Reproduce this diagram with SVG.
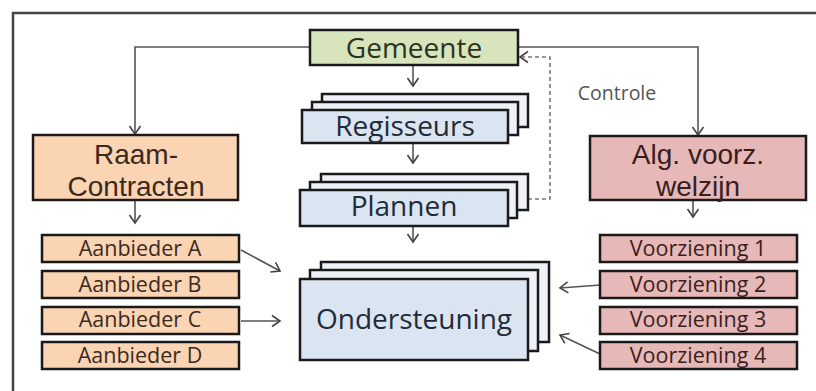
<svg xmlns="http://www.w3.org/2000/svg" width="816" height="391" viewBox="0 0 816 391">
<style>
.box{stroke:#1a1a1a;stroke-width:2.5}
.green{fill:#d8e4bc}
.peach{fill:#fbd4b4}
.pink{fill:#e6b8b7}
.blue{fill:#dbe5f1}
.bg{fill:#eef2f8}
.big{font-family:"Open Sans","Noto Sans",sans-serif;font-size:28px;text-anchor:middle}
.two{font-family:"Liberation Sans",Arial,sans-serif;font-size:28px;text-anchor:middle}
.small{font-family:"Open Sans","Noto Sans",sans-serif;font-size:21.5px;text-anchor:middle}
.conn{fill:none;stroke:#555;stroke-width:1.6}
.dash{fill:none;stroke:#777;stroke-width:1.6;stroke-dasharray:4 3}
</style>
<defs>
<marker id="arr" markerUnits="userSpaceOnUse" markerWidth="14" markerHeight="14" refX="11" refY="7" orient="auto">
<path d="M3,1.5 L11,7 L3,12.5" fill="none" stroke="#444" stroke-width="1.6"/>
</marker>
</defs>
<rect width="816" height="391" fill="#ffffff"/>
<path d="M13,391 V13 H816" fill="none" stroke="#444" stroke-width="2.5"/>

<g id="connectors">
<path class="conn" d="M310,47 H135 V134" marker-end="url(#arr)"/>
<path class="conn" d="M518,47 H698 V135" marker-end="url(#arr)"/>
<path class="conn" d="M413,66 V86" marker-end="url(#arr)"/>
<path class="conn" d="M413,143 V163" marker-end="url(#arr)"/>
<path class="conn" d="M413,227 V242" marker-end="url(#arr)"/>
<path class="conn" d="M135,201 V223" marker-end="url(#arr)"/>
<path class="conn" d="M693,201 V217" marker-end="url(#arr)"/>
<path class="conn" d="M241,250 L280,271" marker-end="url(#arr)"/>
<path class="conn" d="M241,321 H280" marker-end="url(#arr)"/>
<path class="conn" d="M600,285 L560,288" marker-end="url(#arr)"/>
<path class="conn" d="M600,354 L560,335" marker-end="url(#arr)"/>
<path class="dash" d="M528,199 H550 V57 H520" marker-end="url(#arr)"/>
<text x="617" y="100" font-family="'Open Sans','Noto Sans',sans-serif" font-size="19.5" fill="#555" text-anchor="middle">Controle</text>
</g>

<g id="gemeente">
<rect class="box green" x="310" y="30" width="208" height="35"/>
<text class="big" x="414" y="58" fill="#2b3422">Gemeente</text>
</g>

<g id="regisseurs">
<rect class="box bg" x="322" y="94" width="206" height="33"/>
<rect class="box bg" x="312" y="102" width="206" height="33"/>
<rect class="box blue" x="302" y="110" width="206" height="33"/>
<text class="big" x="405" y="136" fill="#222b38">Regisseurs</text>
</g>

<g id="plannen">
<rect class="box bg" x="321" y="174" width="207" height="36"/>
<rect class="box bg" x="310" y="182" width="207" height="36"/>
<rect class="box blue" x="300" y="190" width="208" height="36"/>
<text class="big" x="404" y="216" fill="#222b38">Plannen</text>
</g>

<g id="ondersteuning">
<rect class="box bg" x="321" y="262" width="228" height="80"/>
<rect class="box bg" x="310" y="270" width="228" height="81"/>
<rect class="box blue" x="300" y="279" width="228" height="81"/>
<text class="big" x="414" y="329" fill="#222b38">Ondersteuning</text>
</g>

<g id="raamcontracten">
<rect class="box peach" x="33" y="135" width="205" height="65"/>
<text class="two" fill="#3a2a1e"><tspan x="136" y="164">Raam-</tspan><tspan x="136" y="195.5">Contracten</tspan></text>
</g>

<g id="algvoorz">
<rect class="box pink" x="590" y="136" width="216" height="64"/>
<text class="two" fill="#3a1e1e"><tspan x="698" y="164">Alg. voorz.</tspan><tspan x="698" y="195.5">welzijn</tspan></text>
</g>

<g id="aanbieder-a"><rect class="box peach" x="42" y="235" width="197" height="27"/><text class="small" x="140" y="256" fill="#3a2a1e">Aanbieder A</text></g>
<g id="aanbieder-b"><rect class="box peach" x="42" y="271" width="197" height="27"/><text class="small" x="140" y="292" fill="#3a2a1e">Aanbieder B</text></g>
<g id="aanbieder-c"><rect class="box peach" x="42" y="307" width="197" height="27"/><text class="small" x="140" y="327" fill="#3a2a1e">Aanbieder C</text></g>
<g id="aanbieder-d"><rect class="box peach" x="42" y="342" width="197" height="27"/><text class="small" x="140" y="363" fill="#3a2a1e">Aanbieder D</text></g>

<g id="voorziening-1"><rect class="box pink" x="600" y="235" width="197" height="27"/><text class="small" x="698" y="256" fill="#3a1e1e">Voorziening 1</text></g>
<g id="voorziening-2"><rect class="box pink" x="600" y="271" width="197" height="27"/><text class="small" x="698" y="292" fill="#3a1e1e">Voorziening 2</text></g>
<g id="voorziening-3"><rect class="box pink" x="600" y="307" width="197" height="27"/><text class="small" x="698" y="327" fill="#3a1e1e">Voorziening 3</text></g>
<g id="voorziening-4"><rect class="box pink" x="600" y="342" width="197" height="27"/><text class="small" x="698" y="363" fill="#3a1e1e">Voorziening 4</text></g>
</svg>
